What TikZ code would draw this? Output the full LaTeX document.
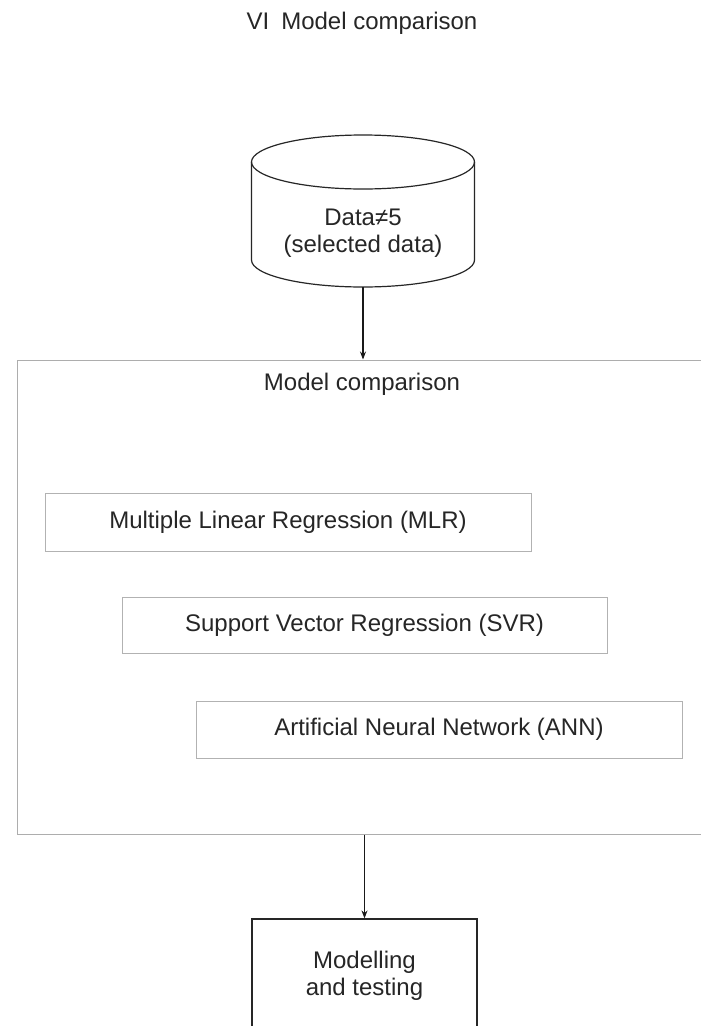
\documentclass[tikz,border=0pt]{standalone}
\usepackage{fontspec}
\setmainfont{Liberation Sans}
\usetikzlibrary{arrows.meta}

\begin{document}
\begin{tikzpicture}[x=1pt, y=-1pt,
  txt/.style={text=black!85, font=\fontsize{24}{27}\selectfont, align=center, inner sep=0pt},
  panel/.style={draw=black!32, line width=1pt, fill=none},
  methodbox/.style={draw=black!30, line width=1pt, inner sep=0pt, txt},
  darkline/.style={draw=black!85, line width=1.2pt},
  flowarrow/.style={draw=black!90, line width=1.1pt, -{Stealth[length=8pt, width=6pt]}}
]
  % page
  \useasboundingbox[fill=white] (0,0) rectangle (701,1026);

  % heading
  \node[txt] (title) at (362,23) {VI\enspace Model comparison};

  % data store (cylinder)
  \coordinate (cyltop) at (363,162);
  \coordinate (cylbot) at (363,287);
  \draw[darkline] (cyltop) ellipse[x radius=111.5, y radius=27];
  \draw[darkline] (251.5,162) -- (251.5,260)
        arc[start angle=180, end angle=0, x radius=111.5, y radius=27]
        -- (474.5,162);
  \node[txt] (data) at (363,233.5) {Data≠5\\(selected data)};

  % comparison panel
  \node[panel, minimum width=685pt, minimum height=474pt, inner sep=0pt] (outer) at (359.5,597) {};
  \node[txt] (cmp) at (362,384) {Model comparison};

  % candidate models
  \node[methodbox, minimum width=486pt, minimum height=58pt] (mlr) at (288,522) {Multiple Linear Regression (MLR)};
  \node[methodbox, minimum width=485pt, minimum height=56pt] (svr) at (364.5,625) {Support Vector Regression (SVR)};
  \node[methodbox, minimum width=486pt, minimum height=57pt] (ann) at (439,729.5) {Artificial Neural Network (ANN)};

  % final stage
  \node[darkline, txt, minimum width=225pt, minimum height=114pt] (model) at (364.5,976) {Modelling\\and testing};

  % flow
  \draw[flowarrow] (cylbot) -- (cylbot |- outer.north);
  \draw[flowarrow] (outer.south -| model.north) -- (model.north);
\end{tikzpicture}
\end{document}
